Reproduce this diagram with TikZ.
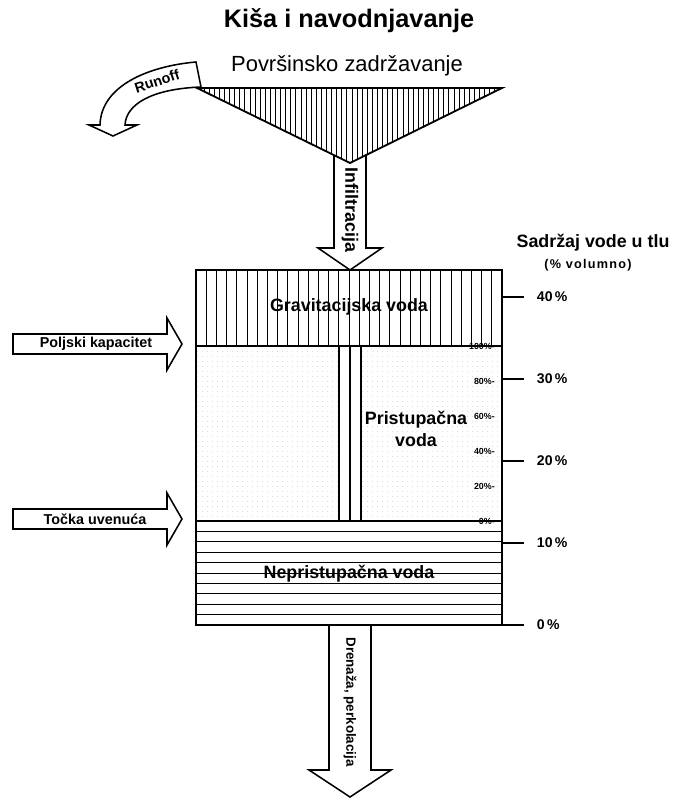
\documentclass[tikz,border=0pt]{standalone}
\usepackage{fontspec}
\setmainfont{Liberation Sans}
\usetikzlibrary{positioning, arrows.meta, patterns.meta}

\tikzdeclarepattern{
  name=tockice, type=uncolored,
  bottom left={(-0.5pt,-0.5pt)}, top right={(2.7pt,2.7pt)},
  tile size={(3.2pt,3.2pt)},
  code={\fill (0,0) circle (0.35pt);}
}

\tikzset{
  okvir/.style={line width=1.3pt},
  srafura/.style={line width=0.6pt},
  strelica/.style={draw, fill=white, line width=1.1pt},
  glavni/.style={font=\bfseries\fontsize{18}{21}\selectfont},
  podnaslov/.style={font=\fontsize{15.6}{18}\selectfont},
  natpis/.style={font=\bfseries\fontsize{12.7}{15.6}\selectfont},
  manji/.style={font=\bfseries\fontsize{10.2}{12}\selectfont},
  skala/.style={font=\bfseries\fontsize{10}{12}\selectfont},
  sitno/.style={font=\bfseries\fontsize{6.3}{7}\selectfont, inner sep=0pt}
}

\begin{document}
\begin{tikzpicture}[x=0.025cm, y=-0.025cm]
    \useasboundingbox (0,0) rectangle (673,800);

    % naslov
    \node[glavni] (kisa) at (349,21) {Kiša i navodnjavanje};
    \node[podnaslov] (povrsina) at (347,66) {Površinsko zadržavanje};

    % infiltracija
    \draw[strelica] (334,150) -- (334,248) -- (318,248) -- (350,270) -- (382,248) -- (366,248) -- (366,150) -- cycle;
    \node[natpis, rotate=-90] (infiltracija) at (350,210) {Infiltracija};

    % lijevak
    \fill[white] (197,88) -- (502,88) -- (350,163) -- cycle;
    \begin{scope}
        \clip (197,88) -- (502,88) -- (350,163) -- cycle;
        \foreach \x in {199,204.1,...,502} \draw[srafura] (\x,88) -- (\x,163);
    \end{scope}
    \draw[okvir] (197,88) -- (502,88) -- (350,163) -- cycle;

    % runoff
    \draw[strelica] (196,62) .. controls (150,66) and (101,85) .. (100,125) -- (89,125) -- (113,136) -- (137,125) -- (125,125) .. controls (126,105) and (150,89) .. (201,87) -- cycle;
    \node[manji, rotate=18] (runoff) at (157,81) {Runoff};

    % drenaza
    \draw[strelica] (329,625) -- (329,770) -- (309,770) -- (350,797) -- (391,770) -- (371,770) -- (371,625) -- cycle;
    \node[font=\bfseries\fontsize{9.5}{11}\selectfont, rotate=-90] (drenaza) at (350,702) {Drenaža, perkolacija};

    % tlo
    \fill[pattern=tockice, pattern color=gray!45] (196,346) rectangle (502,521);
    \fill[white] (339,346) rectangle (361,521);
    \foreach \x in {1,...,29} \draw[srafura] (196+10.2*\x,270) -- (196+10.2*\x,346);
    \foreach \y in {1,...,9} \draw[srafura] (196,521+10.4*\y) -- (502,521+10.4*\y);
    \draw[okvir] (339,346) rectangle (361,521);
    \draw[line width=0.9pt] (350,346) -- (350,521);
    \draw[okvir] (196,270) rectangle (502,625);
    \draw[okvir] (196,346) -- (502,346);
    \draw[okvir] (196,521) -- (502,521);

    \node[natpis] (gravitacijska) at (349,307) {Gravitacijska voda};
    \node[natpis, align=center] (pristupacna) at (416,429) {Pristupačna\\voda};
    \node[natpis] (nepristupacna) at (349,574) {Nepristupačna voda};

    % postotci
    \foreach \p [count=\i from 0] in {0,20,40,60,80,100}
        \node[sitno, anchor=east] (s\p) at (495,521-35*\i) {\p\%-};

    % skala
    \node[natpis] (sadrzaj) at (593,243) {Sadržaj vode u tlu};
    \node[font=\bfseries\fontsize{9}{10}\selectfont\addfontfeature{LetterSpace=10}] (volumno) at (588,265) {(\% volumno)};
    \foreach \y/\v in {297/40,379/30,461/20,543/10,625/0} {
        \draw[okvir] (502,\y) -- (524,\y);
        \node[skala, anchor=west] (v\v) at (532,\y) {\v\,\%};
    }

    % kapaciteti
    \draw[strelica] (13,334) -- (167,334) -- (167,318) -- (182,344) -- (167,370) -- (167,354) -- (13,354) -- cycle;
    \node[manji] (poljski) at (96,344) {Poljski kapacitet};
    \draw[strelica] (13,509) -- (167,509) -- (167,493) -- (182,519) -- (167,545) -- (167,529) -- (13,529) -- cycle;
    \node[manji] (tocka) at (95,519) {Točka uvenuća};

\end{tikzpicture}
\end{document}
